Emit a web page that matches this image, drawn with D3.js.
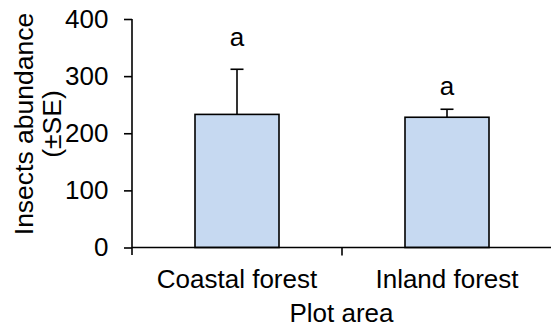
<!DOCTYPE html>
<html>
<head>
<meta charset="utf-8">
<script src="https://cdn.jsdelivr.net/npm/d3@7"></script>
<style>
  html, body { margin: 0; padding: 0; background: #fff; }
  svg { display: block; }
  text { font-family: "Liberation Sans", Arial, sans-serif; fill: #000; }
</style>
</head>
<body>
<svg id="chart" width="551" height="326"></svg>
<script>
// ---- data ----
const categories = ["Coastal forest", "Inland forest"];
const means = [233, 228];
const se = [79, 14];
const letters = ["a", "a"];
const letterPos = [353, 267];
const yTicks = [0, 100, 200, 300, 400];
const yTitle = ["Insects abundance", "(±SE)"];
const xTitle = "Plot area";

// ---- layout ----
const fontSize = 26;
const svg = d3.select("#chart");

const y = d3.scaleLinear().domain([0, 400]).range([247.5, 19]);
const x = d3.scaleBand().domain(categories).range([132, 552]).padding(0);
const barW = x.bandwidth() * 0.4;

// bars
svg.append("g").selectAll("rect")
  .data(categories)
  .join("rect")
  .attr("x", (d) => x(d) + x.bandwidth() / 2 - barW / 2)
  .attr("y", (d, i) => y(means[i]))
  .attr("width", barW)
  .attr("height", (d, i) => y(0) - y(means[i]))
  .attr("fill", "#c6d9f1")
  .attr("stroke", "#000")
  .attr("stroke-width", 1.6);

// error bars
const eb = svg.append("g").attr("stroke", "#000").attr("stroke-width", 1.6);
categories.forEach((c, i) => {
  const cx = x(c) + x.bandwidth() / 2;
  eb.append("line").attr("x1", cx).attr("x2", cx)
    .attr("y1", y(means[i])).attr("y2", y(means[i] + se[i]));
  eb.append("line").attr("x1", cx - 6.5).attr("x2", cx + 6.5)
    .attr("y1", y(means[i] + se[i])).attr("y2", y(means[i] + se[i]));
});

// letters
svg.append("g").selectAll("text")
  .data(categories)
  .join("text")
  .attr("x", (d) => x(d) + x.bandwidth() / 2)
  .attr("y", (d, i) => y(letterPos[i]))
  .attr("text-anchor", "middle")
  .attr("font-size", fontSize)
  .text((d, i) => letters[i]);

// y axis
const yAxis = d3.axisLeft(y).tickValues(yTicks).tickSize(8).tickPadding(15.5).tickSizeOuter(0);
const gy = svg.append("g").attr("transform", "translate(132,0)").call(yAxis);
gy.select(".domain").remove();
gy.selectAll(".tick line").attr("stroke", "#000").attr("stroke-width", 1.6);
gy.selectAll(".tick text").attr("font-size", fontSize).attr("font-family", "Liberation Sans, Arial, sans-serif").attr("fill", "#000");
svg.append("line").attr("x1", 132).attr("x2", 132)
  .attr("y1", y(400)).attr("y2", y(0) + 7.5)
  .attr("stroke", "#000").attr("stroke-width", 1.6);

// x axis
svg.append("line").attr("x1", 132).attr("x2", 552)
  .attr("y1", y(0)).attr("y2", y(0))
  .attr("stroke", "#000").attr("stroke-width", 1.6);
const boundaries = categories.slice(1).map((c) => x(c));
svg.append("g").selectAll("line").data(boundaries).join("line")
  .attr("x1", (d) => d).attr("x2", (d) => d)
  .attr("y1", y(0)).attr("y2", y(0) + 8)
  .attr("stroke", "#000").attr("stroke-width", 1.6);
svg.append("g").selectAll("text").data(categories).join("text")
  .attr("x", (d) => x(d) + x.bandwidth() / 2)
  .attr("y", 288)
  .attr("text-anchor", "middle")
  .attr("font-size", fontSize)
  .text((d) => d);

// axis titles
svg.append("text")
  .attr("x", 341.5).attr("y", 321.5)
  .attr("text-anchor", "middle")
  .attr("font-size", fontSize)
  .text(xTitle);

const yt = svg.append("text")
  .attr("transform", "translate(0,124) rotate(-90)")
  .attr("text-anchor", "middle")
  .attr("font-size", 26.5);
yt.append("tspan").attr("x", 0).attr("y", 33).text(yTitle[0]);
yt.append("tspan").attr("x", 0).attr("y", 61).text(yTitle[1]);
</script>
</body>
</html>
